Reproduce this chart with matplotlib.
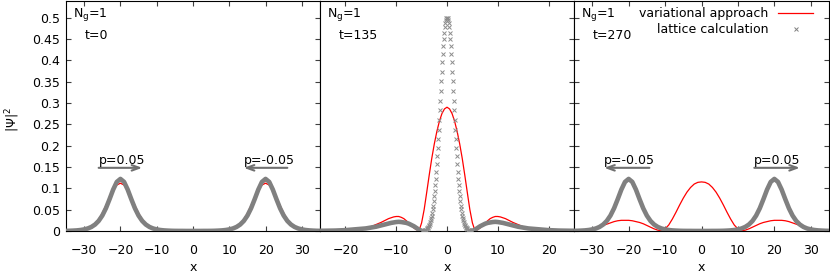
import numpy as np
import matplotlib
matplotlib.use('Agg')
import matplotlib.pyplot as plt
from matplotlib.lines import Line2D
from matplotlib.ticker import MultipleLocator, FormatStrFormatter

###############################################################################
# Data
###############################################################################
times = [0, 135, 270]
ng = 1

# t=0 and t=270 : values at x = -35 .. 35 (step 1)
wide_x = np.arange(-35, 36)
lattice_t0 = [0.0003, 0.0005, 0.0009, 0.0014, 0.0023, 0.0037, 0.0059, 0.0095, 0.0151, 0.0236,
              0.0361, 0.0532, 0.0745, 0.0970, 0.1150, 0.1220, 0.1150, 0.0970, 0.0745, 0.0532,
              0.0361, 0.0236, 0.0151, 0.0095, 0.0059, 0.0037, 0.0023, 0.0014, 0.0009, 0.0005,
              0.0003, 0.0002, 0.0002, 0.0001, 0.0001, 0.0001, 0.0001, 0.0001, 0.0002, 0.0002,
              0.0003, 0.0005, 0.0009, 0.0014, 0.0023, 0.0037, 0.0059, 0.0095, 0.0151, 0.0236,
              0.0361, 0.0532, 0.0745, 0.0970, 0.1150, 0.1220, 0.1150, 0.0970, 0.0745, 0.0532,
              0.0361, 0.0236, 0.0151, 0.0095, 0.0059, 0.0037, 0.0023, 0.0014, 0.0009, 0.0005,
              0.0003]
var_t0 = [0, 0, 0.0001, 0.0004, 0.0010, 0.0022, 0.0046, 0.0090, 0.0162, 0.0271,
          0.0418, 0.0596, 0.0785, 0.0957, 0.1077, 0.1120, 0.1077, 0.0957, 0.0785, 0.0596,
          0.0418, 0.0271, 0.0162, 0.0090, 0.0046, 0.0022, 0.0010, 0.0004, 0.0001,
          0, 0, 0, 0, 0, 0, 0, 0, 0, 0, 0, 0, 0,
          0.0001, 0.0004, 0.0010, 0.0022, 0.0046, 0.0090, 0.0162, 0.0271, 0.0418, 0.0596,
          0.0785, 0.0957, 0.1077, 0.1120, 0.1077, 0.0957, 0.0785, 0.0596, 0.0418, 0.0271,
          0.0162, 0.0090, 0.0046, 0.0022, 0.0010, 0.0004, 0.0001, 0, 0]
lattice_t270 = [0.0003, 0.0005, 0.0009, 0.0014, 0.0023, 0.0037, 0.0059, 0.0095, 0.0151, 0.0236,
                0.0361, 0.0532, 0.0745, 0.0970, 0.1150, 0.1220, 0.1150, 0.0970, 0.0745, 0.0532,
                0.0361, 0.0236, 0.0151, 0.0095, 0.0059, 0.0037, 0.0023, 0.0014, 0.0009, 0.0005,
                0.0003, 0.0002, 0.0002, 0.0001, 0.0001, 0.0001, 0.0001, 0.0001, 0.0002, 0.0002,
                0.0003, 0.0005, 0.0009, 0.0014, 0.0023, 0.0037, 0.0059, 0.0095, 0.0151, 0.0236,
                0.0361, 0.0532, 0.0745, 0.0970, 0.1150, 0.1220, 0.1150, 0.0970, 0.0745, 0.0532,
                0.0361, 0.0236, 0.0151, 0.0095, 0.0059, 0.0037, 0.0023, 0.0014, 0.0009, 0.0005,
                0.0003]
var_t270 = [0.001, 0.0015, 0.002, 0.003, 0.004, 0.006, 0.008, 0.010, 0.013, 0.016,
            0.019, 0.022, 0.024, 0.025, 0.025, 0.025, 0.024, 0.022, 0.020, 0.017,
            0.013, 0.009, 0.005, 0.002, 0.0005, 0.005, 0.014, 0.028, 0.044, 0.061,
            0.077, 0.091, 0.102, 0.110, 0.114, 0.115, 0.114, 0.110, 0.102, 0.091,
            0.077, 0.061, 0.044, 0.028, 0.014, 0.005, 0.0005, 0.002, 0.005, 0.009,
            0.013, 0.017, 0.020, 0.022, 0.024, 0.025, 0.025, 0.025, 0.024, 0.022,
            0.019, 0.016, 0.013, 0.010, 0.008, 0.006, 0.004, 0.003, 0.002, 0.0015, 0.001]

# t=135 : lattice tails (left and right), lattice core (step 0.1), variational curve
tail_l_x = [-25, -24, -23, -22, -21, -20, -19, -18, -17, -16, -15, -14, -13, -12, -11,
            -10, -9.5, -9, -8.5, -8, -7.5, -7, -6.5, -6, -5.5, -5]
tail_l_y = [0.0005, 0.0006, 0.0008, 0.001, 0.0015, 0.002, 0.003, 0.004, 0.005, 0.006,
            0.008, 0.010, 0.013, 0.016, 0.019, 0.021, 0.0215, 0.021, 0.020, 0.019,
            0.017, 0.014, 0.011, 0.007, 0.003, 0.0006]
tail_r_x = [5, 5.5, 6, 6.5, 7, 7.5, 8, 8.5, 9, 9.5, 10, 11, 12, 13, 14, 15, 16, 17,
            18, 19, 20, 21, 22, 23, 24, 25]
tail_r_y = [0.0006, 0.003, 0.007, 0.011, 0.014, 0.017, 0.019, 0.020, 0.021, 0.0215,
            0.021, 0.019, 0.016, 0.013, 0.010, 0.008, 0.006, 0.005, 0.004, 0.003,
            0.002, 0.0015, 0.001, 0.0008, 0.0006, 0.0005]
core_x = np.round(np.arange(-50, 51) * 0.1, 1)
core_y = [0.0006, 0.0003, 0.0001, 0.0002, 0.0004, 0.0007, 0.0012, 0.0018, 0.0026, 0.0035,
          0.0047, 0.0059, 0.0074, 0.0093, 0.0115, 0.0141, 0.0172, 0.0209, 0.0253, 0.0304,
          0.0363, 0.0431, 0.0509, 0.0597, 0.0697, 0.0809, 0.0934, 0.1071, 0.1220, 0.1383,
          0.1559, 0.1746, 0.1945, 0.2154, 0.2372, 0.2596, 0.2825, 0.3056, 0.3287, 0.3514,
          0.3736, 0.3949, 0.4149, 0.4335, 0.4502, 0.4649, 0.4772, 0.4871, 0.4942, 0.4985,
          0.5000,
          0.4985, 0.4942, 0.4871, 0.4772, 0.4649, 0.4502, 0.4335, 0.4149, 0.3949, 0.3736,
          0.3514, 0.3287, 0.3056, 0.2825, 0.2596, 0.2372, 0.2154, 0.1945, 0.1746, 0.1559,
          0.1383, 0.1220, 0.1071, 0.0934, 0.0809, 0.0697, 0.0597, 0.0509, 0.0431, 0.0363,
          0.0304, 0.0253, 0.0209, 0.0172, 0.0141, 0.0115, 0.0093, 0.0074, 0.0059, 0.0047,
          0.0035, 0.0026, 0.0018, 0.0012, 0.0007, 0.0004, 0.0002, 0.0001, 0.0003, 0.0006]
var135_x = [-25, -24, -23, -22, -21, -20, -19, -18, -17, -16, -15, -14, -13,
            -12, -11.5, -11, -10.5, -10, -9.5, -9, -8.5, -8, -7.5, -7, -6.5, -6, -5.5,
            -5, -4.5, -4, -3.5, -3, -2.5, -2, -1.5, -1, -0.5, 0,
            0.5, 1, 1.5, 2, 2.5, 3, 3.5, 4, 4.5, 5,
            5.5, 6, 6.5, 7, 7.5, 8, 8.5, 9, 9.5, 10, 10.5, 11, 11.5, 12,
            13, 14, 15, 16, 17, 18, 19, 20, 21, 22, 23, 24, 25]
var135_y = [0.0002, 0.0003, 0.0005, 0.0007, 0.001, 0.0015, 0.002, 0.003, 0.005, 0.007,
            0.010, 0.015, 0.020,
            0.026, 0.029, 0.031, 0.033, 0.034, 0.034, 0.032, 0.029, 0.024, 0.018, 0.012,
            0.007, 0.003, 0.001,
            0.019, 0.050, 0.090, 0.131, 0.170, 0.204, 0.233, 0.257, 0.275, 0.286, 0.290,
            0.286, 0.275, 0.257, 0.233, 0.204, 0.170, 0.131, 0.090, 0.050, 0.019,
            0.001, 0.003, 0.007, 0.012, 0.018, 0.024, 0.029, 0.032, 0.034, 0.034, 0.033,
            0.031, 0.029, 0.026,
            0.020, 0.015, 0.010, 0.007, 0.005, 0.003, 0.002, 0.0015, 0.001, 0.0007,
            0.0005, 0.0003, 0.0002]

# momentum arrows: (panel, label, x start, x end)
arrows = [(0, 'p=0.05', -26, -14), (0, 'p=-0.05', 26, 14),
          (2, 'p=-0.05', -14.3, -26.7), (2, 'p=0.05', 14.5, 27)]

###############################################################################
# Plot
###############################################################################
plt.rcParams['font.family'] = ['DejaVu Sans']
plt.rcParams['font.size'] = 9
plt.rcParams['mathtext.fontset'] = 'dejavusans'

GRAY = '#808080'
RED = '#ff0000'

fig = plt.figure(figsize=(8.3, 2.77), dpi=100)
W, H = 830.0, 277.0
boxes = [(66, 254), (320, 254), (574, 255)]
axes = [fig.add_axes([l / W, 46 / H, w / W, 230.5 / H]) for l, w in boxes]
xlims = [(-35, 35), (-25, 25), (-35, 35)]

ax1, ax2, ax3 = axes

# panel 1, t=0
ax1.plot(wide_x, var_t0, color=RED, lw=0.9, zorder=2)
ax1.plot(wide_x, lattice_t0, color=GRAY, lw=3.3, solid_joinstyle='round', zorder=3)

# panel 2, t=135
ax2.plot(var135_x, var135_y, color=RED, lw=0.9, zorder=2)
ax2.plot(tail_l_x, tail_l_y, color=GRAY, lw=3.3, solid_joinstyle='round', zorder=3)
ax2.plot(tail_r_x, tail_r_y, color=GRAY, lw=3.3, solid_joinstyle='round', zorder=3)
ax2.plot(core_x, core_y, ls='none', marker='x', ms=2.6, mew=0.7, color='#8c8c8c', zorder=3)

# panel 3, t=270
ax3.plot(wide_x, var_t270, color=RED, lw=0.9, zorder=2)
ax3.plot(wide_x, lattice_t270, color=GRAY, lw=3.3, solid_joinstyle='round', zorder=3)

for i, ax in enumerate(axes):
    ax.set_xlim(*xlims[i])
    ax.set_ylim(0, 0.54)
    ax.xaxis.set_major_locator(MultipleLocator(10))
    ax.yaxis.set_major_locator(MultipleLocator(0.05))
    ax.yaxis.set_major_formatter(FormatStrFormatter('%g'))
    ax.tick_params(direction='in', length=3.5, width=0.8, top=True, right=True,
                   labelsize=9, color='#404040')
    ax.tick_params(axis='x', pad=9)
    ax.tick_params(axis='y', pad=4)
    if i > 0:
        ax.tick_params(labelleft=False)
    if i == 1:
        ax.tick_params(left=False)
    for s in ax.spines.values():
        s.set_linewidth(0.8)
    ax.set_xlabel('x', fontsize=9, labelpad=3)
    ax.text(7 / 254, 0.928, 'N$_\\mathrm{g}$=%d' % ng, transform=ax.transAxes,
            ha='left', va='baseline', fontsize=9)
    ax.text(19 / 254, 0.833, 't=%d' % times[i], transform=ax.transAxes,
            ha='left', va='baseline', fontsize=9)

for panel, label, xs, xe in arrows:
    ax = axes[panel]
    ax.annotate('', xy=(xe, 0.148), xytext=(xs, 0.148),
                arrowprops=dict(arrowstyle='->,head_length=0.6,head_width=0.22',
                                color='#707070', lw=1.5, shrinkA=0, shrinkB=0))
    ax.text(min(xs, xe), 0.157, label, ha='left', va='baseline', fontsize=9)

fig.text(13 / W, 1 - 120 / H, '|\u03a8|$^2$', rotation=90, ha='center', va='center', fontsize=9)

handles = [Line2D([], [], color=RED, lw=0.9),
           Line2D([], [], ls='none', marker='x', ms=2.5, mew=0.7, color=GRAY)]
ax3.legend(handles, ['variational approach', 'lattice calculation'], loc='upper right',
           bbox_to_anchor=(1 - 16 / 255, 1 - 7 / 230.5),
           frameon=False, markerfirst=False, fontsize=9, handlelength=2.8,
           handletextpad=0.8, labelspacing=0.2, borderaxespad=0, borderpad=0)

plt.savefig('out.png', dpi=100)
